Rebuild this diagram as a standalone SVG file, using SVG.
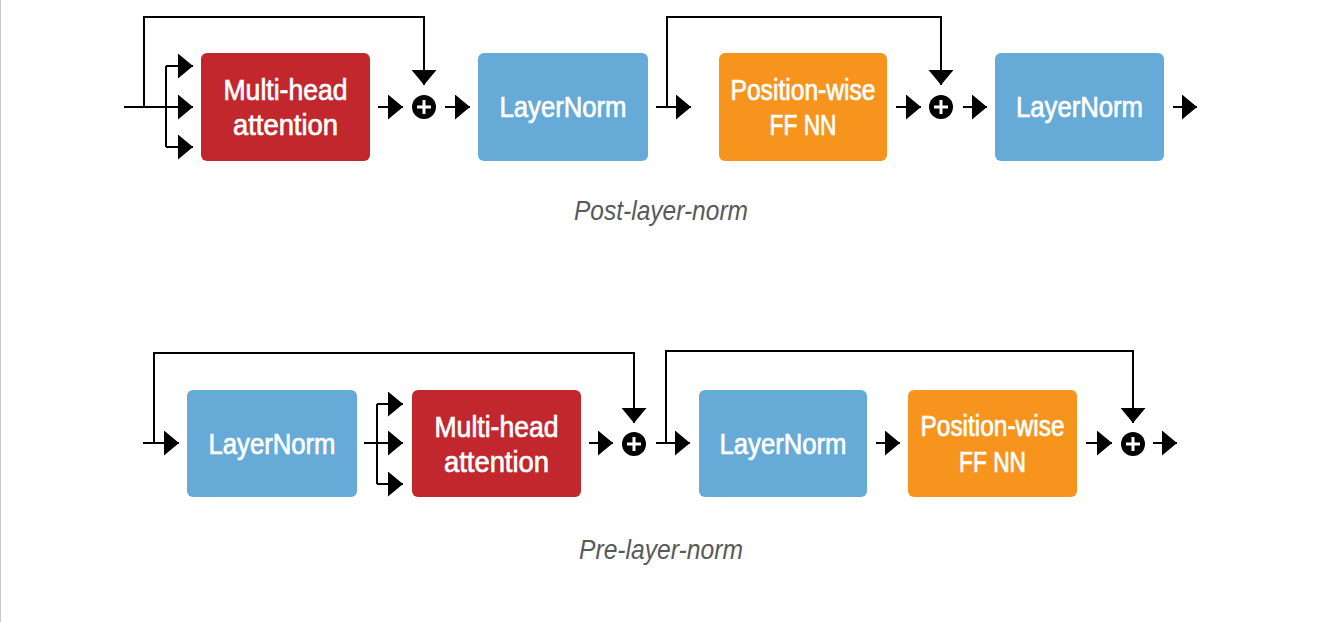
<svg xmlns="http://www.w3.org/2000/svg" width="1320" height="622" viewBox="0 0 1320 622">
<style>
.box{stroke:none}
.red{fill:#C1272D}
.blue{fill:#66AAD7}
.orange{fill:#F7941E}
.lbl{font-family:"Liberation Sans",Arial,sans-serif;font-size:29px;fill:#fff;stroke:#fff;stroke-width:0.7;text-anchor:middle}
.cap{font-family:"Liberation Sans",Arial,sans-serif;font-size:27px;font-style:italic;fill:#58595B;text-anchor:middle}
.ln{fill:none;stroke:#000;stroke-width:2}
.plus{stroke:#fff;stroke-width:3;fill:none}
</style>
<defs>
<marker id="ah" markerUnits="userSpaceOnUse" markerWidth="15" markerHeight="25" refX="15" refY="12.5" orient="auto">
<path d="M0,0 L15,12.5 L0,25 z" fill="#000"/>
</marker>
</defs>
<rect x="0" y="0" width="1320" height="622" fill="#fff"/>
<line x1="0.5" y1="0" x2="0.5" y2="622" stroke="#c8c8c8" stroke-width="1"/>

<g id="connectors">
<path class="ln" d="M124,107 H193" marker-end="url(#ah)"/>
<path class="ln" d="M166,66 V147"/>
<path class="ln" d="M166,66 H193" marker-end="url(#ah)"/>
<path class="ln" d="M166,147 H193" marker-end="url(#ah)"/>
<path class="ln" d="M144,107 V17 H424 V85" marker-end="url(#ah)"/>
<path class="ln" d="M378,107 H403" marker-end="url(#ah)"/>
<path class="ln" d="M445,107 H470" marker-end="url(#ah)"/>
<path class="ln" d="M656,107 H691" marker-end="url(#ah)"/>
<path class="ln" d="M667,107 V17 H941 V85" marker-end="url(#ah)"/>
<path class="ln" d="M896,107 H921" marker-end="url(#ah)"/>
<path class="ln" d="M963,107 H987" marker-end="url(#ah)"/>
<path class="ln" d="M1173,107 H1197" marker-end="url(#ah)"/>

<path class="ln" d="M143,443 H179" marker-end="url(#ah)"/>
<path class="ln" d="M154,443 V353 H634 V423" marker-end="url(#ah)"/>
<path class="ln" d="M364,443 H403" marker-end="url(#ah)"/>
<path class="ln" d="M377,404 V484"/>
<path class="ln" d="M377,404 H403" marker-end="url(#ah)"/>
<path class="ln" d="M377,484 H403" marker-end="url(#ah)"/>
<path class="ln" d="M589,443 H613" marker-end="url(#ah)"/>
<path class="ln" d="M656,443 H690" marker-end="url(#ah)"/>
<path class="ln" d="M666,443 V351 H1133 V423" marker-end="url(#ah)"/>
<path class="ln" d="M876,443 H900" marker-end="url(#ah)"/>
<path class="ln" d="M1086,443 H1112" marker-end="url(#ah)"/>
<path class="ln" d="M1153,443 H1177" marker-end="url(#ah)"/>
</g>

<g id="top-mha">
<rect class="box red" x="201" y="53" width="169" height="108" rx="6"/>
<text class="lbl" x="285.5" y="100" textLength="124" lengthAdjust="spacingAndGlyphs">Multi-head</text>
<text class="lbl" x="285.5" y="135" textLength="105" lengthAdjust="spacingAndGlyphs">attention</text>
</g>
<g id="top-add1">
<circle cx="424" cy="107" r="12" fill="#000"/>
<path class="plus" d="M417,107 H431 M424,100 V114"/>
</g>
<g id="top-ln1">
<rect class="box blue" x="478" y="53" width="170" height="108" rx="6"/>
<text class="lbl" x="563" y="117" textLength="127" lengthAdjust="spacingAndGlyphs">LayerNorm</text>
</g>
<g id="top-ff">
<rect class="box orange" x="719" y="53" width="168" height="108" rx="6"/>
<text class="lbl" x="803" y="100" textLength="145" lengthAdjust="spacingAndGlyphs">Position-wise</text>
<text class="lbl" x="803" y="135" textLength="67" lengthAdjust="spacingAndGlyphs">FF NN</text>
</g>
<g id="top-add2">
<circle cx="941" cy="107" r="12" fill="#000"/>
<path class="plus" d="M934,107 H948 M941,100 V114"/>
</g>
<g id="top-ln2">
<rect class="box blue" x="995" y="53" width="169" height="108" rx="6"/>
<text class="lbl" x="1079.5" y="117" textLength="127" lengthAdjust="spacingAndGlyphs">LayerNorm</text>
</g>
<g id="cap-post">
<text class="cap" x="661" y="220" textLength="174" lengthAdjust="spacingAndGlyphs">Post-layer-norm</text>
</g>

<g id="bot-ln1">
<rect class="box blue" x="187" y="390" width="170" height="107" rx="6"/>
<text class="lbl" x="272" y="454" textLength="127" lengthAdjust="spacingAndGlyphs">LayerNorm</text>
</g>
<g id="bot-mha">
<rect class="box red" x="412" y="390" width="169" height="107" rx="6"/>
<text class="lbl" x="496.5" y="437" textLength="124" lengthAdjust="spacingAndGlyphs">Multi-head</text>
<text class="lbl" x="496.5" y="472" textLength="105" lengthAdjust="spacingAndGlyphs">attention</text>
</g>
<g id="bot-add1">
<circle cx="634" cy="444" r="12" fill="#000"/>
<path class="plus" d="M627,444 H641 M634,437 V451"/>
</g>
<g id="bot-ln2">
<rect class="box blue" x="699" y="390" width="168" height="107" rx="6"/>
<text class="lbl" x="783" y="454" textLength="127" lengthAdjust="spacingAndGlyphs">LayerNorm</text>
</g>
<g id="bot-ff">
<rect class="box orange" x="908" y="390" width="169" height="107" rx="6"/>
<text class="lbl" x="992.5" y="436" textLength="144" lengthAdjust="spacingAndGlyphs">Position-wise</text>
<text class="lbl" x="992.5" y="472" textLength="67" lengthAdjust="spacingAndGlyphs">FF NN</text>
</g>
<g id="bot-add2">
<circle cx="1133" cy="444" r="12" fill="#000"/>
<path class="plus" d="M1126,444 H1140 M1133,437 V451"/>
</g>
<g id="cap-pre">
<text class="cap" x="661" y="559" textLength="164" lengthAdjust="spacingAndGlyphs">Pre-layer-norm</text>
</g>
</svg>
